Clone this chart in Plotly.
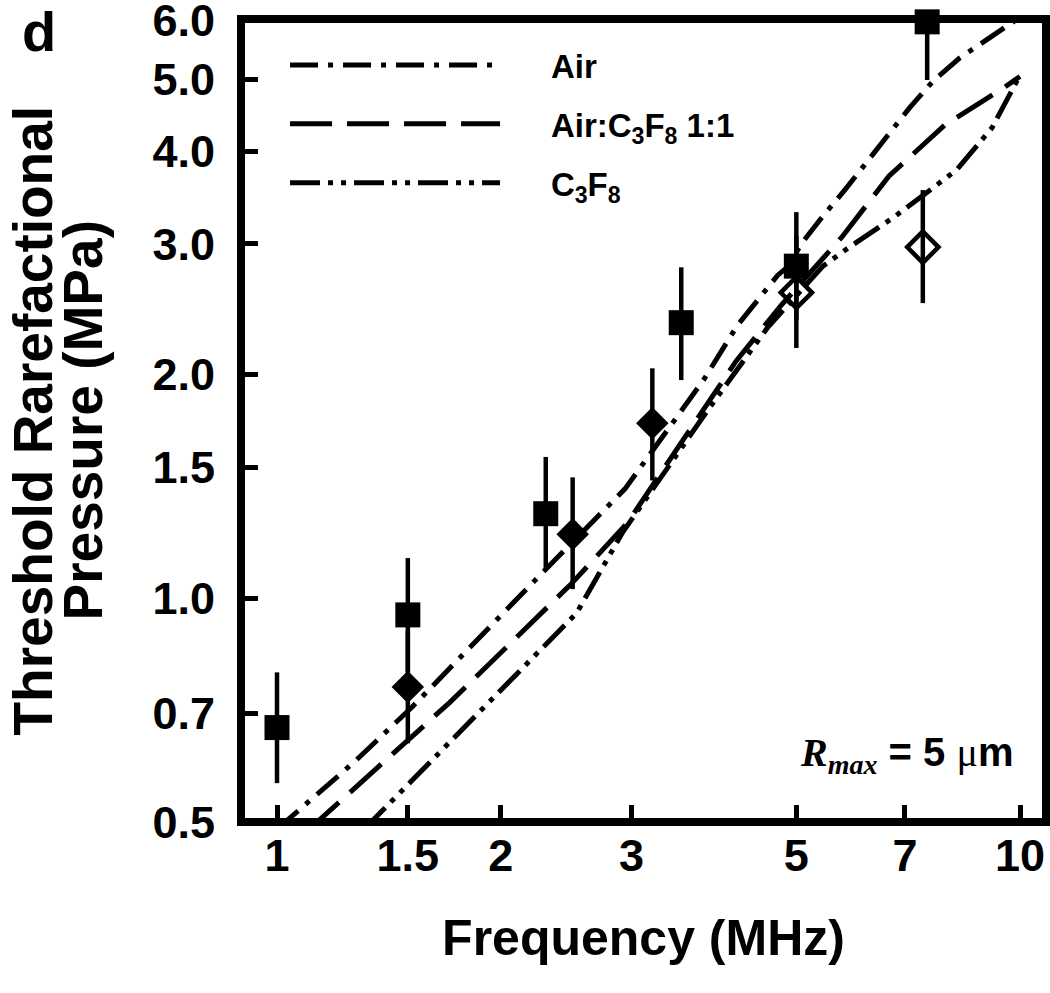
import math
import plotly.graph_objects as go

# ---------------- data ----------------
# model curves (frequency MHz, threshold pressure MPa)
air_f = [1.0, 1.27, 1.52, 1.75, 2.24, 2.94, 3.75, 4.16, 4.72, 4.86, 5.09, 5.43, 5.83, 6.64, 7.11, 7.64, 8.30, 9.79, 10.0]
air_p = [0.489, 0.602, 0.714, 0.826, 1.065, 1.404, 1.967, 2.326, 2.723, 2.79, 3.01, 3.27, 3.56, 4.20, 4.58, 4.97, 5.34, 5.97, 6.05]

mix_f = [1.10, 1.71, 2.48, 2.96, 3.5, 4.15, 4.77, 5.76, 6.66, 7.93, 9.49, 10.0]
mix_p = [0.487, 0.725, 1.042, 1.262, 1.62, 2.087, 2.48, 3.065, 3.70, 4.34, 4.86, 5.04]

c3f8_f = [1.31, 1.75, 2.53, 2.92, 3.80, 4.57, 5.43, 5.92, 6.71, 7.64, 8.23, 9.17, 9.57, 10.0]
c3f8_p = [0.489, 0.655, 0.955, 1.228, 1.792, 2.312, 2.80, 2.98, 3.24, 3.57, 3.78, 4.30, 4.67, 5.06]

# measured points
sq_freq = [1.0, 1.5, 2.3, 3.5, 5.0, 7.5]
sq_p = [0.67, 0.95, 1.30, 2.35, 2.80, 5.97]
sq_plus = [0.125, 0.183, 0.25, 0.44, 0.51, 0.05]
sq_minus = [0.106, 0.154, 0.202, 0.383, 0.431, 0.985]

fd_freq = [1.5, 2.5, 3.2]
fd_p = [0.76, 1.22, 1.72]
fd_plus = [0.144, 0.235, 0.32]
fd_minus = [0.122, 0.191, 0.279]

od_freq = [5.0, 7.4]
od_p = [2.58, 2.97]
od_plus = [0.495, 0.574]
od_minus = [0.407, 0.473]

x_ticks = [1, 1.5, 2, 3, 5, 7, 10]
x_ticktext = ["1", "1.5", "2", "3", "5", "7", "10"]
y_ticks = [0.5, 0.7, 1.0, 1.5, 2.0, 3.0, 4.0, 5.0, 6.0]
y_ticktext = ["0.5", "0.7", "1.0", "1.5", "2.0", "3.0", "4.0", "5.0", "6.0"]

# ---------------- figure ----------------
FONT = "Arial, Liberation Sans, Helvetica, sans-serif"
SERIF = "Liberation Serif, Times New Roman, serif"
PAD = "\u00a0" * 5

fig = go.Figure()

curves = [
    ("Air", air_f, air_p, "28px,10px,5px,10px", "g1"),
    ("Air:C<sub>3</sub>F<sub>8</sub> 1:1", mix_f, mix_p, "42px,15px", "g2"),
    ("C<sub>3</sub>F<sub>8</sub>", c3f8_f, c3f8_p, "30px,8px,5px,8px,5px,8px", "g3"),
]
for name, f, p, dash, grp in curves:
    fig.add_trace(go.Scatter(
        x=f, y=p, mode="lines", name=PAD + name, legendgroup=grp,
        line=dict(color="black", width=5, dash=dash),
    ))

err = dict(type="data", thickness=4.5, width=0, color="black")
fig.add_trace(go.Scatter(
    x=sq_freq, y=sq_p, mode="markers", showlegend=False, cliponaxis=False,
    marker=dict(symbol="square", size=25, color="black"),
    error_y=dict(err, array=sq_plus, arrayminus=sq_minus),
))
fig.add_trace(go.Scatter(
    x=fd_freq, y=fd_p, mode="markers", showlegend=False,
    marker=dict(symbol="diamond", size=25, color="black"),
    error_y=dict(err, array=fd_plus, arrayminus=fd_minus),
))
fig.add_trace(go.Scatter(
    x=od_freq, y=od_p, mode="markers", showlegend=False,
    marker=dict(symbol="diamond-open", size=24, color="black", line=dict(width=4.5, color="black")),
    error_y=dict(err, array=od_plus, arrayminus=od_minus),
))

axis_common = dict(
    type="log", showgrid=False, zeroline=False, showline=False, automargin=False,
    ticks="inside", ticklen=17, tickwidth=4.5, tickcolor="black",
    ticklabeloverflow="allow",
    tickfont=dict(family=FONT, size=45, color="black", weight="bold"),
)

fig.update_layout(
    width=1050, height=993,
    margin=dict(l=241, r=4, t=19, b=171),
    paper_bgcolor="white", plot_bgcolor="white",
    xaxis=dict(
        axis_common,
        range=[-0.04845, 1.035],
        tickvals=x_ticks, ticktext=x_ticktext,
        ticklabelstandoff=3,
        title=dict(text="Frequency (MHz)", standoff=39,
                   font=dict(family=FONT, size=50, color="black", weight="bold")),
    ),
    yaxis=dict(
        axis_common,
        range=[math.log10(0.5), math.log10(6.023)],
        tickvals=y_ticks, ticktext=y_ticktext,
        ticklabelstandoff=25,
    ),
    legend=dict(
        x=0.0547, y=0.9776, xanchor="left", yanchor="top",
        bgcolor="rgba(0,0,0,0)", borderwidth=0,
        itemwidth=210, tracegroupgap=13,
        font=dict(family=FONT, size=33, color="black", weight="bold"),
    ),
    showlegend=True,
    shapes=[
        dict(type="rect", xref="paper", yref="paper", x0=0, x1=1, y0=0, y1=1,
             line=dict(color="black", width=8), fillcolor="rgba(0,0,0,0)", layer="above"),
    ],
    annotations=[
        dict(text="d", xref="paper", yref="paper", x=-0.251, y=0.985,
             xanchor="center", yanchor="middle", showarrow=False,
             font=dict(family=FONT, size=56, color="black", weight="bold")),
        dict(text="Threshold Rarefactional", xref="paper", yref="paper",
             x=-0.2584, y=0.5, xanchor="center", yanchor="middle", textangle=-90,
             showarrow=False, font=dict(family=FONT, size=55, color="black", weight="bold")),
        dict(text="Pressure (MPa)", xref="paper", yref="paper",
             x=-0.1963, y=0.5, xanchor="center", yanchor="middle", textangle=-90,
             showarrow=False, font=dict(family=FONT, size=55, color="black", weight="bold")),
        dict(text="<i><span style='font-family:" + SERIF + "'>R<sub>max</sub></span></i> = 5 "
                  "<span style='font-family:" + SERIF + ";font-weight:normal'>μ</span>m",
             xref="paper", yref="paper", x=0.827, y=0.0834,
             xanchor="center", yanchor="middle", showarrow=False,
             font=dict(family=FONT, size=40, color="black", weight="bold")),
    ],
)

fig.write_html(
    "out.html",
    config={"displayModeBar": False},
    post_script="document.body.style.margin='0';document.documentElement.style.overflow='hidden';",
)
